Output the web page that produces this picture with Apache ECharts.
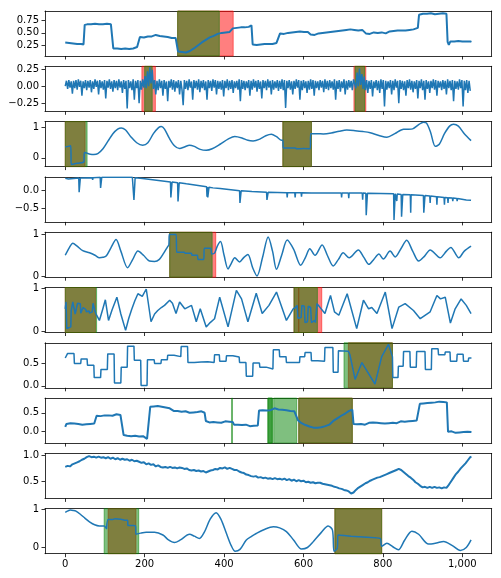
<!DOCTYPE html>
<html>
<head>
<meta charset="utf-8">
<script src="https://cdn.jsdelivr.net/npm/echarts@6/dist/echarts.min.js"></script>
<style>
  html, body { margin: 0; padding: 0; background: #fff; }
  #chart { width: 501px; height: 578px; }
</style>
</head>
<body>
<div id="chart"></div>
<script>
// ---- data ----
var xTicks = [0, 200, 400, 600, 800, 1000];

var s1 = [[0,0.31],[5,0.29],[10,0.30],[15,0.28],[20,0.29],[25,0.27],[30,0.28],[35,0.26],[40,0.28],[46,0.27],
  [49,0.66],[55,0.67],[60,0.65],[65,0.67],[70,0.66],[75,0.68],[80,0.66],[85,0.67],[90,0.65],[95,0.67],[100,0.66],[105,0.68],[110,0.66],[115,0.67],[119,0.68],
  [121,0.19],[126,0.21],[131,0.19],[136,0.2],[141,0.18],[146,0.21],[151,0.19],[156,0.2],[161,0.18],[166,0.21],[171,0.19],[176,0.2],[181,0.22],[186,0.21],
  [188,0.42],[193,0.43],[198,0.41],[203,0.44],[208,0.43],[213,0.45],[218,0.43],[223,0.44],[228,0.46],[233,0.43],[238,0.44],[243,0.42],[248,0.43],[253,0.41],[258,0.42],[263,0.41],[268,0.4],[273,0.41],[278,0.4],[282,0.41],
  [284,0.13],[289,0.11],[294,0.12],[299,0.1],[304,0.11],[309,0.12],[314,0.14],[319,0.17],[324,0.19],[329,0.22],[334,0.25],[339,0.27],[344,0.31],[349,0.33],[354,0.36],[359,0.38],[364,0.41],[369,0.43],[374,0.44],[379,0.47],[384,0.48],[389,0.51],[394,0.5],[399,0.52],[404,0.51],[409,0.53],[414,0.52],[419,0.55],
  [422,0.59],[427,0.61],[432,0.6],[437,0.62],[442,0.61],[447,0.62],[452,0.61],[457,0.63],[462,0.62],[467,0.64],[469,0.65],
  [472,0.27],[477,0.28],[482,0.26],[487,0.28],[492,0.27],[497,0.29],[502,0.28],[507,0.3],[512,0.28],[517,0.29],[522,0.28],[527,0.31],[532,0.3],[537,0.29],
  [541,0.49],[546,0.5],[551,0.48],[556,0.51],[561,0.5],[566,0.49],[571,0.51],[576,0.5],[581,0.52],[586,0.51],[591,0.53],[596,0.5],[601,0.52],[606,0.54],[611,0.52],[615,0.53],
  [618,0.47],[623,0.48],[628,0.46],[633,0.48],[638,0.49],[643,0.48],[648,0.5],[653,0.49],[658,0.51],[663,0.5],[668,0.52],[673,0.51],[678,0.53],[683,0.52],[688,0.54],[693,0.53],[698,0.55],[703,0.54],[708,0.56],[713,0.55],[718,0.57],[723,0.55],[728,0.56],[733,0.57],[738,0.55],[743,0.57],[748,0.56],[753,0.55],
  [757,0.49],[762,0.5],[767,0.48],[772,0.5],[777,0.51],[782,0.49],[787,0.5],[792,0.48],[797,0.51],[802,0.5],[807,0.49],
  [812,0.52],[817,0.53],[822,0.52],[827,0.54],[832,0.53],[837,0.55],[842,0.54],[847,0.55],[852,0.56],[857,0.55],[862,0.57],[867,0.56],[872,0.58],[877,0.57],[882,0.58],[888,0.6],
  [891,0.86],[896,0.87],[901,0.88],[906,0.86],[911,0.88],[916,0.87],[921,0.89],[926,0.88],[931,0.87],[936,0.89],[941,0.88],[946,0.87],[951,0.89],[956,0.9],[960,0.88],
  [963,0.32],[966,0.26],[970,0.33],[975,0.31],[980,0.33],[985,0.32],[990,0.34],[995,0.32],[1000,0.33],[1005,0.31],[1010,0.33],[1015,0.34],[1020,0.33],[1023,0.32]];

// subplot 2: every 3rd sample, values in hundredths
var s2Step = 3;
var s2Hundredths = [
  0,8,-4,9,-2,7,-11,8,-3,9,-5,10,-1,8,-14,7,-3,9,-6,8,
  -2,9,-9,7,-4,10,-1,8,-12,9,-3,7,-5,9,-18,8,-2,10,-4,7,
  -8,9,-3,8,-6,10,-2,7,-10,9,-4,8,-33,9,-3,7,-6,10,-20,8,
  -3,9,-25,8,-5,10,-2,15,-3,22,0,28,4,24,-4,9,-12,8,-6,10,
  -3,8,-14,9,-4,7,-22,8,-2,10,-5,9,-8,7,-3,9,-12,8,-5,-28,
  9,-4,8,-6,10,-2,7,-20,9,-3,8,-5,10,-9,8,-3,9,-6,7,-20,
  9,-3,8,-7,10,-2,9,-12,8,-4,7,-5,9,-15,8,-3,10,-6,8,-4,
  9,-10,7,-3,8,-5,10,-22,9,-4,8,-6,7,-3,9,-14,8,-5,10,-2,
  8,-8,9,-4,7,-18,9,-3,8,-6,10,-2,8,-12,9,-5,7,-3,9,-7,
  8,-4,10,-6,9,-32,8,-3,9,-5,7,-12,8,-4,10,-2,9,-20,8,-6,
  9,-3,7,-10,8,-5,10,-4,9,-14,8,-3,7,-6,9,-2,8,-9,10,-4,
  8,-6,9,-3,7,-5,10,-20,8,-4,9,-8,7,-3,10,-12,8,-5,9,-2,
  8,-6,10,12,-3,20,0,26,2,18,-4,14,-6,9,-10,8,-4,9,-15,7,
  -3,9,-6,8,-10,10,-4,9,-30,8,-5,7,-3,9,-12,8,-6,10,-2,8,
  -25,9,-4,8,-6,7,-14,9,-3,10,-5,8,-9,7,-4,9,-18,8,-3,10,
  -6,8,-20,9,-4,7,-10,8,-3,10,-5,9,-14,8,-2,7,-6,9,-4,8,
  -12,10,-3,8,-6,9,-22,8,-4,7,-5,10,-3,9,-30,8,-6,9,-10,8,
  -7];

var s3 = [[0,0.36],[7,0.38],[14,0.4],[15,-0.22],[30,-0.18],[47,-0.13],[48,0.18],[55,0.15],[63,0.12],[72,0.11],[82,0.14],[95,0.3],[108,0.56],[120,0.8],[132,0.95],[141,0.99],[152,0.92],[165,0.7],[180,0.5],[195,0.42],[208,0.5],[222,0.8],[235,1.0],[242,1.04],[250,0.95],[262,0.65],[275,0.4],[288,0.31],[300,0.36],[313,0.42],[325,0.38],[340,0.28],[355,0.25],[370,0.3],[390,0.45],[410,0.62],[427,0.71],[445,0.66],[460,0.58],[473,0.56],[490,0.62],[505,0.73],[519,0.78],[532,0.7],[545,0.58],[548,0.58],[549,0.33],[565,0.33],[580,0.33],[582,0.3],[600,0.31],[617,0.3],[618,0.8],[635,0.8],[650,0.79],[670,0.82],[690,0.88],[709,0.92],[730,0.9],[750,0.87],[768,0.83],[790,0.74],[810,0.68],[830,0.8],[852,0.95],[865,0.95],[875,0.96],[890,1.1],[902,1.18],[910,1.15],[920,0.85],[932,0.38],[942,0.45],[955,0.8],[968,1.05],[978,1.11],[990,1.05],[1005,0.8],[1022,0.57]];

var s4 = [[0,0.32],[8,0.3],[10,0.32],[34,0.33],[35,-0.06],[37,-0.06],[38,0.33],[68,0.34],[69,0.28],[70,0.34],[88,0.35],[89,0.06],[91,0.06],[92,0.35],[118,0.35],[119,0.3],[120,0.35],[169,0.35],[172,0.34],[173,-0.27],[175,-0.27],[176,0.34],[183,0.33],[184,0.28],[185,0.33],[200,0.31],[201,0.26],[202,0.31],[265,0.22],[266,-0.2],[268,-0.2],[269,0.22],[283,0.2],[284,-0.31],[286,-0.31],[287,0.2],[305,0.17],[356,0.09],[357,-0.18],[358,0.08],[359,-0.2],[361,-0.2],[362,0.08],[372,0.06],[390,0.04],[391,0.0],[392,0.04],[439,-0.02],[440,-0.35],[442,-0.35],[443,-0.02],[470,-0.04],[471,-0.09],[472,-0.04],[507,-0.06],[508,-0.27],[510,-0.27],[511,-0.06],[558,-0.07],[559,-0.2],[560,-0.07],[578,-0.07],[579,-0.2],[580,-0.07],[594,-0.07],[595,-0.18],[596,-0.07],[620,-0.08],[621,-0.13],[622,-0.08],[695,-0.08],[696,-0.2],[697,-0.08],[713,-0.08],[714,-0.22],[715,-0.08],[748,-0.08],[749,-0.26],[750,-0.08],[757,-0.09],[758,-0.69],[760,-0.69],[761,-0.09],[827,-0.1],[828,-0.82],[830,-0.82],[831,-0.1],[834,-0.11],[835,-0.3],[836,-0.11],[846,-0.12],[847,-0.73],[849,-0.73],[850,-0.12],[869,-0.13],[870,-0.62],[871,-0.13],[902,-0.15],[903,-0.62],[905,-0.62],[906,-0.15],[918,-0.16],[919,-0.35],[920,-0.16],[935,-0.18],[936,-0.4],[937,-0.18],[954,-0.2],[955,-0.4],[956,-0.2],[963,-0.21],[964,-0.35],[965,-0.21],[975,-0.22],[976,-0.3],[977,-0.22],[986,-0.23],[987,-0.3],[988,-0.23],[1010,-0.27],[1011,-0.3],[1012,-0.27],[1022,-0.28]];

var s5 = [[0,0.5],[10,0.68],[19,0.79],[30,0.72],[44,0.61],[61,0.56],[75,0.5],[86,0.44],[95,0.45],[103,0.48],[115,0.68],[128,0.88],[140,0.6],[157,0.2],[170,0.4],[183,0.6],[197,0.5],[212,0.36],[225,0.35],[237,0.4],[248,0.55],[258,0.71],[261,0.75],[262,1.0],[279,1.0],[281,0.57],[300,0.57],[302,0.55],[318,0.55],[319,0.5],[333,0.5],[334,0.4],[349,0.4],[350,0.67],[366,0.67],[369,0.53],[376,0.55],[383,0.72],[391,0.83],[400,0.5],[410,0.17],[418,0.3],[427,0.44],[439,0.34],[450,0.45],[460,0.52],[472,0.2],[483,0.0],[497,0.45],[511,0.94],[522,0.6],[532,0.16],[545,0.5],[559,0.87],[575,0.65],[593,0.26],[605,0.45],[616,0.66],[629,0.5],[647,0.75],[660,0.5],[675,0.24],[688,0.4],[700,0.56],[715,0.44],[738,0.63],[752,0.45],[765,0.28],[777,0.4],[790,0.53],[801,0.41],[818,0.6],[831,0.46],[845,0.65],[860,0.86],[875,0.6],[890,0.36],[905,0.48],[919,0.63],[944,0.44],[960,0.6],[971,0.69],[991,0.44],[1005,0.6],[1022,0.72]];

var s6 = [[0,0.52],[2,0.68],[4,0.06],[14,0.1],[15,0.48],[19,0.68],[24,0.66],[25,0.4],[30,0.42],[31,0.65],[38,0.64],[39,0.42],[44,0.4],[45,0.55],[52,0.5],[53,0.45],[60,0.47],[61,0.42],[68,0.45],[70,0.65],[74,0.5],[77,0.41],[86,0.25],[94,0.5],[101,0.73],[109,0.25],[118,0.5],[130,0.79],[140,0.4],[152,0.02],[160,0.3],[167,0.5],[175,0.7],[183,0.87],[194,0.81],[204,0.98],[216,0.22],[225,0.4],[233,0.48],[242,0.55],[250,0.6],[263,0.72],[270,0.65],[279,0.41],[288,0.68],[301,0.52],[318,0.6],[330,0.22],[340,0.52],[355,0.1],[365,0.2],[376,0.29],[389,0.79],[410,0.1],[431,0.95],[444,0.75],[460,0.22],[481,0.88],[496,0.41],[513,0.6],[532,0.91],[557,0.25],[574,0.52],[580,0.55],[584,0.6],[586,0.3],[594,0.32],[596,0.6],[602,0.58],[604,0.2],[610,0.22],[612,0.58],[618,0.55],[620,0.2],[628,0.25],[630,0.2],[634,0.64],[641,0.56],[654,0.41],[668,0.83],[678,0.45],[689,0.37],[710,0.87],[734,0.06],[751,0.72],[764,0.52],[772,0.55],[785,0.41],[806,0.91],[823,0.06],[840,0.56],[856,0.64],[877,0.48],[894,0.29],[919,0.45],[936,0.83],[945,0.75],[957,0.79],[970,0.19],[982,0.52],[997,0.75],[1010,0.6],[1022,0.41]];

var s7 = [[0,0.61],[5,0.61],[6,0.71],[22,0.71],[23,0.49],[39,0.49],[40,0.59],[55,0.59],[56,0.45],[72,0.45],[73,0.18],[89,0.18],[90,0.36],[106,0.36],[107,0.7],[123,0.7],[124,0.06],[140,0.06],[141,0.41],[156,0.41],[157,0.87],[173,0.87],[174,0.56],[190,0.56],[191,0.01],[206,0.01],[207,0.57],[224,0.57],[225,0.49],[241,0.49],[242,0.57],[257,0.57],[258,0.67],[274,0.67],[275,0.64],[291,0.64],[292,0.86],[308,0.86],[309,0.51],[325,0.51],[326,0.52],[342,0.52],[343,0.53],[359,0.53],[360,0.51],[375,0.51],[376,0.68],[388,0.68],[389,0.54],[405,0.54],[406,0.66],[422,0.66],[423,0.63],[438,0.63],[439,0.51],[455,0.51],[456,0.21],[472,0.21],[473,0.5],[489,0.5],[490,0.41],[506,0.41],[507,0.37],[523,0.37],[524,0.79],[539,0.79],[540,0.64],[556,0.64],[557,0.51],[590,0.51],[591,0.64],[603,0.64],[604,0.73],[619,0.73],[620,0.55],[636,0.55],[637,0.54],[653,0.54],[654,0.84],[674,0.84],[675,0.3],[687,0.3],[688,0.77],[713,0.76],[717,0.68],[730,0.14],[747,0.51],[780,0.04],[797,0.64],[814,0.91],[824,0.64],[825,0.18],[838,0.18],[839,0.43],[851,0.43],[852,0.75],[868,0.75],[869,0.41],[884,0.41],[885,0.75],[906,0.75],[907,0.36],[922,0.36],[923,0.81],[939,0.81],[940,0.68],[956,0.68],[957,0.74],[969,0.74],[970,0.54],[986,0.54],[987,0.69],[1002,0.69],[1003,0.54],[1015,0.54],[1016,0.61],[1023,0.61]];

var s8 = [[0,0.12],[3,0.2],[8,0.18],[13,0.22],[18,0.19],[23,0.21],[28,0.17],[33,0.2],[38,0.22],[43,0.18],[48,0.23],[53,0.19],[58,0.15],[63,0.2],[68,0.18],[73,0.21],[77,0.2],
  [79,0.42],[84,0.44],[89,0.41],[94,0.45],[99,0.43],[104,0.46],[109,0.43],[114,0.45],[119,0.42],[124,0.44],[129,0.46],[134,0.43],[139,0.44],[144,0.41],
  [147,-0.1],[151,-0.14],[156,-0.12],[161,-0.16],[166,-0.13],[171,-0.15],[176,-0.12],[181,-0.17],[186,-0.14],[191,-0.16],[196,-0.13],[201,-0.15],[206,-0.2],[211,-0.15],
  [214,0.66],[218,0.7],[223,0.67],[228,0.72],[233,0.68],[238,0.7],[243,0.66],[248,0.69],[253,0.64],[258,0.66],[263,0.62],[268,0.6],[273,0.55],[278,0.53],[283,0.55],[288,0.51],[293,0.53],[298,0.5],[303,0.54],[308,0.52],[313,0.5],[318,0.53],[323,0.51],[328,0.55],[333,0.52],[338,0.5],[343,0.54],[348,0.52],[351,0.5],
  [354,0.28],[358,0.26],[363,0.24],[368,0.27],[373,0.25],[378,0.28],[383,0.24],[388,0.26],[393,0.23],[398,0.25],[403,0.27],[408,0.24],[413,0.26],[418,0.28],[422,0.25],
  [425,0.18],[430,0.16],[435,0.18],[440,0.15],[445,0.17],[450,0.15],[455,0.18],[460,0.16],[465,0.14],[470,0.17],[475,0.15],[480,0.18],[485,0.16],
  [488,0.56],[492,0.6],[497,0.57],[502,0.59],[507,0.56],[512,0.6],[517,0.57],[522,0.58],[527,0.62],[532,0.57],[537,0.59],[542,0.56],[547,0.58],[552,0.55],[557,0.57],[562,0.54],[567,0.55],[572,0.52],[577,0.54],[582,0.5],
  [586,0.3],[590,0.26],[595,0.22],[600,0.2],[605,0.17],[610,0.15],[615,0.13],[620,0.12],[625,0.1],[630,0.09],[635,0.1],[640,0.08],[645,0.11],[650,0.1],[655,0.14],[660,0.13],[665,0.18],[670,0.2],[675,0.28],[680,0.3],[685,0.35],[690,0.38],[695,0.42],[700,0.45],[705,0.48],[710,0.5],[715,0.55],[720,0.6],[723,0.58],
  [726,0.2],[730,0.22],[735,0.19],[740,0.23],[745,0.2],[750,0.22],[755,0.18],[760,0.21],[765,0.23],[770,0.2],[775,0.24],[780,0.21],[785,0.23],[790,0.2],[795,0.22],[800,0.25],[805,0.21],[810,0.24],[815,0.22],[820,0.25],[825,0.23],[830,0.26],[835,0.22],[840,0.25],[845,0.27],[850,0.24],[855,0.26],[860,0.23],[865,0.27],[870,0.25],[875,0.28],[880,0.26],[885,0.29],[890,0.27],
  [893,0.74],[897,0.77],[902,0.75],[907,0.78],[912,0.76],[917,0.79],[922,0.77],[927,0.75],[932,0.78],[937,0.76],[942,0.8],[947,0.77],[952,0.79],[957,0.82],[961,0.78],
  [964,-0.01],[968,-0.03],[973,0.0],[978,-0.02],[983,-0.04],[988,-0.01],[993,-0.03],[998,0.0],[1003,-0.02],[1008,-0.04],[1013,-0.01],[1018,-0.03],[1023,-0.02]];

var s9 = [[0,0.78],[6,0.8],[12,0.79],[18,0.83],[24,0.85],[30,0.87],[36,0.89],[42,0.92],[48,0.94],[54,0.97],[60,0.99],[66,0.97],[72,0.98],[78,0.96],[84,0.98],[90,0.96],[96,0.97],[102,0.95],[108,0.97],[114,0.94],[120,0.96],[126,0.93],[132,0.95],[138,0.92],[144,0.94],[150,0.92],[156,0.93],[162,0.9],[168,0.92],[174,0.89],[180,0.9],[186,0.88],[192,0.86],[198,0.87],[204,0.83],[210,0.85],[216,0.82],[222,0.83],[228,0.79],[234,0.81],[240,0.78],[246,0.77],[252,0.78],[258,0.76],[264,0.78],[270,0.76],[276,0.77],[282,0.75],[288,0.77],[294,0.76],[300,0.74],[306,0.75],[312,0.72],[318,0.71],[324,0.72],[330,0.7],[336,0.71],[342,0.69],[348,0.7],[354,0.67],[360,0.69],[366,0.71],[372,0.72],[378,0.74],[384,0.73],[390,0.76],[396,0.75],[402,0.77],[408,0.74],[414,0.76],[420,0.74],[426,0.72],[432,0.72],[438,0.69],[444,0.67],[450,0.66],[456,0.63],[462,0.62],[468,0.6],[474,0.59],[480,0.6],[486,0.57],[492,0.58],[498,0.56],[504,0.57],[510,0.55],[516,0.56],[522,0.54],[528,0.56],[534,0.54],[540,0.55],[546,0.53],[552,0.55],[558,0.52],[564,0.54],[570,0.51],[576,0.53],[582,0.5],[588,0.52],[594,0.5],[600,0.51],[606,0.48],[612,0.49],[618,0.47],[624,0.48],[630,0.46],[636,0.47],[642,0.47],[648,0.45],[654,0.44],[660,0.43],[666,0.42],[672,0.41],[678,0.39],[684,0.38],[690,0.36],[696,0.35],[702,0.33],[708,0.32],[714,0.3],[720,0.26],[726,0.28],[732,0.33],[738,0.37],[744,0.4],[750,0.43],[756,0.46],[762,0.48],[768,0.51],[774,0.53],[780,0.55],[786,0.57],[792,0.58],[798,0.6],[804,0.62],[810,0.64],[816,0.66],[822,0.68],[828,0.7],[834,0.72],[840,0.74],[846,0.72],[852,0.68],[858,0.64],[864,0.6],[870,0.57],[876,0.53],[882,0.48],[888,0.45],[894,0.41],[900,0.38],[906,0.39],[912,0.37],[918,0.39],[924,0.37],[930,0.39],[936,0.37],[942,0.38],[948,0.36],[954,0.38],[960,0.37],[966,0.43],[972,0.5],[978,0.57],[984,0.64],[990,0.69],[996,0.75],[1002,0.8],[1008,0.85],[1014,0.91],[1020,0.97],[1023,0.98]];

var s10 = [[0,0.93],[7,0.97],[13,0.99],[20,0.98],[27,0.96],[38,0.88],[50,0.77],[61,0.68],[74,0.6],[86,0.57],[98,0.57],[104,0.5],[105,0.49],[108,0.74],[120,0.74],[125,0.76],[140,0.75],[153,0.72],[157,0.72],[158,0.58],[170,0.58],[177,0.57],[178,0.35],[190,0.38],[204,0.4],[225,0.4],[246,0.33],[260,0.2],[275,0.13],[290,0.2],[313,0.35],[325,0.3],[338,0.24],[350,0.4],[365,0.75],[380,0.92],[392,0.75],[406,0.37],[418,0.05],[428,-0.1],[440,-0.05],[456,0.2],[470,0.3],[481,0.37],[500,0.47],[524,0.55],[540,0.52],[557,0.42],[575,0.2],[595,-0.04],[610,0.0],[625,0.16],[645,0.4],[662,0.57],[673,0.46],[677,-0.1],[685,-0.02],[687,0.33],[720,0.3],[760,0.27],[793,0.24],[797,0.03],[810,0.11],[825,0.02],[839,-0.06],[855,0.2],[873,0.43],[890,0.35],[915,0.09],[935,0.12],[953,0.16],[975,0.05],[995,-0.08],[1010,0.0],[1022,0.2]];

// shaded spans (x from, x to); 510-522 appears twice in subplot 8 (darker)
var redSpans = [[[283,423]], [[193,227],[727,757]], [[0,50],[548,620]], [], [[263,379]],
  [[0,76],[576,588],[588,646]], [[713,824]], [[588,723]], [], [[108,178],[679,797]]];
var greenSpans = [[[283,388]], [[200,219],[730,754]], [[0,55],[548,620]], [], [[263,370]],
  [[0,79],[576,635]], [[702,824]], [[419,421],[510,522],[511,521],[525,583],[588,723]], [], [[98,185],[679,797]]];

var yTicks = [[0.25,0.5,0.75],[-0.25,0,0.25],[0,1],[-0.5,0],[0,1],[0,1],[0,0.5],[0,0.5],[0.5,1],[0,1]];
var yDecimals = [2,2,0,1,0,0,1,1,1,0];
var yLimits = [[0.04,0.936],[-0.37,0.293],[-0.29,1.2],[-0.87,0.36],[-0.03,1.057],[-0.03,1.015],[-0.043,0.943],[-0.316,0.895],[0.164,1.044],[-0.164,1.026]];

var s2 = s2Hundredths.map(function(v, k) { return [k * s2Step, v / 100]; });
var seriesData = [s1, s2, s3, s4, s5, s6, s7, s8, s9, s10];
var smoothOn = [false, false, 0.3, false, 0.3, false, false, false, false, 0.3];
var lineWidths = [2, 1.5, 1.5, 1.5, 1.5, 1.5, 1.5, 2, 2, 1.5]; // noisy traces look thicker

// ---- build chart ----
var chart = echarts.init(document.getElementById('chart'), null, {renderer: 'canvas'});
var grids = [], xAxes = [], yAxes = [], series = [];
var font = 'DejaVu Sans';
var frameLine = {show: true, onZero: false, lineStyle: {color: '#000', width: 0.8}};
var NP = 10;

for (var i = 0; i < NP; i++) {
    grids.push({left: 45, right: 9.3, top: 11 + i * 55.3, height: 45});
    xAxes.push({
        type: 'value', gridIndex: i, min: -51, max: 1074, position: 'bottom',
        axisLine: frameLine, splitLine: {show: false},
        axisTick: {show: true, customValues: xTicks, length: 3.5, lineStyle: {color: '#000', width: 0.8}},
        axisLabel: {show: i === NP - 1, customValues: xTicks, fontSize: 10, color: '#000', margin: 6, fontFamily: font}
    });
    (function(dec) {
        yAxes.push({
            type: 'value', gridIndex: i, min: yLimits[i][0], max: yLimits[i][1], position: 'left',
            axisLine: frameLine, splitLine: {show: false},
            axisTick: {show: true, customValues: yTicks[i], length: 3.5, lineStyle: {color: '#000', width: 0.8}},
            axisLabel: {
                customValues: yTicks[i], fontSize: 10, color: '#000', margin: 6, fontFamily: font,
                formatter: function(v) { return Number(v).toFixed(dec).replace('-', '\u2212'); }
            }
        });
    })(yDecimals[i]);
}
// top / right frame lines
for (var j = 0; j < NP; j++) {
    xAxes.push({type: 'value', gridIndex: j, min: -51, max: 1074, position: 'top',
        axisLine: frameLine, axisTick: {show: false}, axisLabel: {show: false}, splitLine: {show: false}});
    yAxes.push({type: 'value', gridIndex: j, min: 0, max: 1, position: 'right',
        axisLine: frameLine, axisTick: {show: false}, axisLabel: {show: false}, splitLine: {show: false}});
}

for (var k = 0; k < NP; k++) {
    series.push({
        type: 'line', xAxisIndex: k, yAxisIndex: k, data: [], silent: true,
        markArea: {
            silent: true, z: 1,
            itemStyle: {color: 'rgba(255,0,0,0.5)', borderColor: 'rgba(255,0,0,0.5)', borderWidth: 1},
            data: redSpans[k].map(function(r) { return [{xAxis: r[0]}, {xAxis: r[1]}]; })
        }
    });
    series.push({
        type: 'line', xAxisIndex: k, yAxisIndex: k, data: [], silent: true,
        markArea: {
            silent: true, z: 2,
            itemStyle: {color: 'rgba(0,128,0,0.5)', borderColor: 'rgba(0,128,0,0.5)', borderWidth: 1},
            data: greenSpans[k].map(function(r) { return [{xAxis: r[0]}, {xAxis: r[1]}]; })
        }
    });
    series.push({
        type: 'line', xAxisIndex: k, yAxisIndex: k, data: seriesData[k], z: 3,
        showSymbol: false, symbol: 'none', smooth: smoothOn[k], clip: true,
        lineStyle: {color: '#1f77b4', width: lineWidths[k]}
    });
}

chart.setOption({
    animation: false,
    textStyle: {fontFamily: font},
    grid: grids,
    xAxis: xAxes,
    yAxis: yAxes,
    series: series
});
</script>
</body>
</html>
